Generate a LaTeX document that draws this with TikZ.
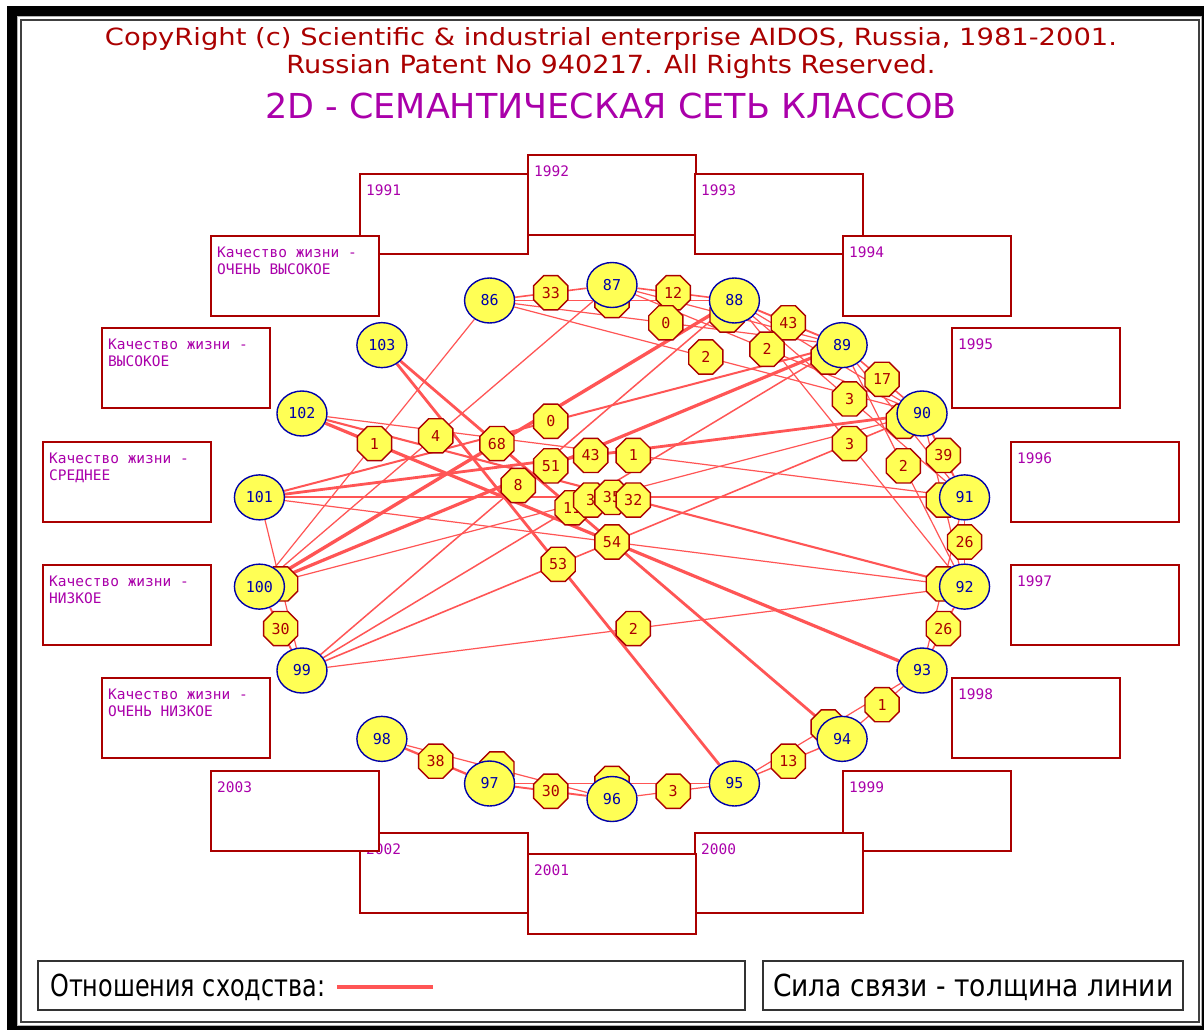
\documentclass[tikz,border=0pt]{standalone}
\usepackage{fontspec}
\setmainfont{DejaVu Sans}
\newfontfamily\monof{DejaVu Sans Mono}
\newfontfamily\sansf{DejaVu Sans}
\usetikzlibrary{shapes.geometric}
\definecolor{lred}{HTML}{FF5555}
\definecolor{dred}{HTML}{AA0000}
\definecolor{yel}{HTML}{FFFF55}
\definecolor{dblue}{HTML}{0000AA}
\definecolor{mag}{HTML}{AA00AA}
\pgfdeclarelayer{base}
\pgfdeclarelayer{bg}
\pgfdeclarelayer{fg}
\pgfsetlayers{base,bg,main,fg}
\tikzset{
  cls/.style={ellipse, draw=dblue, fill=yel, line width=1.4pt, minimum width=50pt,
    minimum height=45pt, inner sep=0pt, text=dblue, font=\monof\fontsize{15}{15}\selectfont},
  oct/.style={regular polygon, regular polygon sides=8, draw=dred, fill=yel, line width=1.4pt,
    minimum size=37pt, inner sep=0pt, text=dred, font=\monof\fontsize{15}{15}\selectfont},
  relline/.style={draw=lred},
  yearbox/.style={draw=dred, fill=white, line width=1.8pt},
  boxlabel/.style={anchor=base west, inner sep=0pt, text=mag, font=\monof\fontsize{14.5}{17}\selectfont},
  titletext/.style={anchor=base, inner sep=0pt},
  legtext/.style={anchor=base west, inner sep=0pt, text=black},
}
\newcommand\edgeL[4]{%
  \begin{pgfonlayer}{bg}\draw[relline, line width=#4pt] (n#1) -- (n#2);\end{pgfonlayer}
  \path (n#1) -- node[oct] (l#1x#2) {#3} (n#2);}
\newcommand\edgeN[3]{%
  \begin{pgfonlayer}{bg}\draw[relline, line width=#3pt] (n#1) -- (n#2);\end{pgfonlayer}}
\newcommand\ybox[4]{%
  \draw[yearbox] (#2,#3) rectangle ++(168,80);
  \node[boxlabel] (#1) at (#2+6,#3+21) {#4};}
\newcommand\qbox[5]{%
  \draw[yearbox] (#2,#3) rectangle ++(168,80);
  \node[boxlabel] (#1a) at (#2+6,#3+21) {#4};
  \node[boxlabel] (#1b) at (#2+6,#3+38) {#5};}
\begin{document}
\begin{tikzpicture}[x=1pt,y=-1pt]
\useasboundingbox (0,0) rectangle (1204,1030);
\begin{pgfonlayer}{base}
  \fill[white] (0,0) rectangle (1204,1030);
  \fill[black] (7,6) rectangle (1204,1030);
  \filldraw[fill=white, draw=black!30, line width=1.3pt] (17.6,16.6) rectangle (1201.4,1025.4);
  \draw[black!75, line width=1.5pt] (21,20) rectangle (1199,1022);
\end{pgfonlayer}

% titles
\node[titletext, text=dred] (t1) at (611,46)
  {\resizebox{1012pt}{18pt}{\sansf CopyRight (c) Scientific \& industrial enterprise AIDOS, Russia, 1981-2001.}};
\node[titletext, text=dred] (t2) at (611,74)
  {\resizebox{649pt}{19pt}{\sansf Russian Patent No 940217. All Rights Reserved.}};
\node[titletext, text=mag] (t3) at (611,119)
  {\resizebox{691pt}{25.5pt}{\sansf 2D - СЕМАНТИЧЕСКАЯ СЕТЬ КЛАССОВ}};

% boxes (years, then quality levels)
\ybox{y1991}{360}{174}{1991}
\ybox{y1992}{528}{155}{1992}
\ybox{y1993}{695}{174}{1993}
\ybox{y1994}{843}{236}{1994}
\ybox{y1995}{952}{328}{1995}
\ybox{y1996}{1011}{442}{1996}
\ybox{y1997}{1011}{565}{1997}
\ybox{y1998}{952}{678}{1998}
\ybox{y1999}{843}{771}{1999}
\ybox{y2000}{695}{833}{2000}
\ybox{y2001}{528}{854}{2001}
\ybox{y2002}{360}{833}{2002}
\ybox{y2003}{211}{771}{2003}
\qbox{qvh}{211}{236}{Качество жизни -}{ОЧЕНЬ ВЫСОКОЕ}
\qbox{qh}{102}{328}{Качество жизни -}{ВЫСОКОЕ}
\qbox{qm}{43}{442}{Качество жизни -}{СРЕДНЕЕ}
\qbox{ql}{43}{565}{Качество жизни -}{НИЗКОЕ}
\qbox{qvl}{102}{678}{Качество жизни -}{ОЧЕНЬ НИЗКОЕ}

% class nodes on the ring
\begin{pgfonlayer}{fg}
\foreach \n/\a in {91/10,90/30,89/50,88/70,87/90,86/110,103/130,102/150,101/170,
                   100/190,99/210,98/230,97/250,96/270,95/290,94/310,93/330,92/350}
  \node[cls] (n\n) at ({612+358*cos(\a)},{542-257*sin(\a)}) {\n};
\end{pgfonlayer}

% neighbouring relations
\edgeL{86}{87}{33}{1.6}
\edgeL{87}{88}{12}{1.6}
\edgeL{88}{89}{43}{1.9}
\edgeL{89}{90}{17}{1.6}
\edgeL{90}{91}{39}{1.9}
\edgeL{91}{92}{26}{1.6}
\edgeL{92}{93}{26}{1.6}
\edgeL{93}{94}{1}{1.2}
\edgeL{94}{95}{13}{1.4}
\edgeL{95}{96}{3}{1.2}
\edgeL{96}{97}{30}{1.9}
\edgeL{97}{98}{38}{2.3}
\edgeL{99}{100}{30}{1.9}
% second neighbours (labels under the class nodes)
\edgeL{86}{88}{}{1.2}
\edgeL{87}{89}{}{1.2}
\edgeL{88}{90}{}{1.2}
\edgeL{89}{91}{}{1.2}
\edgeL{90}{92}{1}{1.2}
\edgeL{91}{93}{1}{1.2}
\edgeL{93}{95}{}{1.2}
\edgeL{95}{97}{}{1.2}
\edgeL{96}{98}{}{1.2}
\edgeL{99}{101}{}{1.2}
% long relations
\edgeL{86}{89}{0}{1.2}
\edgeL{86}{90}{2}{1.2}
\edgeL{87}{90}{2}{1.2}
\edgeL{88}{91}{3}{1.2}
\edgeL{88}{92}{3}{1.2}
\edgeL{89}{92}{2}{1.2}
\edgeL{86}{100}{1}{1.2}
\edgeL{87}{100}{4}{1.3}
\edgeL{88}{100}{68}{3.4}
\edgeL{89}{100}{51}{3.2}
\edgeL{89}{101}{0}{2}
\edgeL{90}{101}{43}{2.8}
\edgeL{91}{102}{1}{1.2}
\edgeL{88}{99}{8}{1.5}
\edgeL{89}{99}{11}{1.5}
\edgeL{90}{100}{3}{1.2}
\edgeL{91}{101}{35}{2.1}
\edgeL{92}{102}{32}{2.1}
\edgeN{94}{103}{2.8}
\edgeN{90}{99}{1.6}
\edgeN{92}{101}{1.2}
\edgeL{93}{102}{54}{3.2}
\edgeL{95}{103}{53}{2.8}
\edgeL{92}{99}{2}{1.2}

% legend
\draw[black!80, line width=1.6pt] (38,961) rectangle (745,1010);
\draw[black!80, line width=1.6pt] (763,961) rectangle (1183,1010);
\node[legtext] (leg1) at (50,996) {\resizebox{275pt}{22.5pt}{\sansf Отношения сходства:}};
\node[legtext] (leg2) at (773,996) {\resizebox{400pt}{22.5pt}{\sansf Сила связи - толщина линии}};
\coordinate (la) at (337,987);
\coordinate (lb) at (433,987);
\draw[lred, line width=4.5pt] (la) -- (lb);
\end{tikzpicture}
\end{document}
